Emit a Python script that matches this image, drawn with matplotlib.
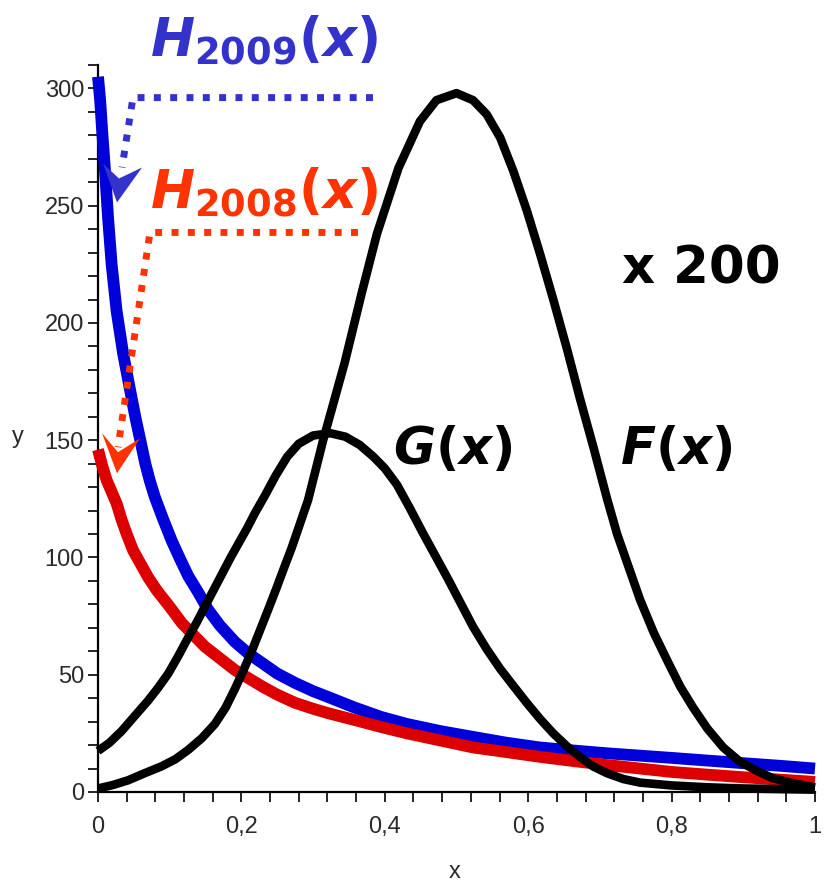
import numpy as np
import matplotlib
matplotlib.use("Agg")
import matplotlib.pyplot as plt
from matplotlib.ticker import MultipleLocator, FuncFormatter

plt.rcParams['mathtext.fontset'] = 'custom'
plt.rcParams['mathtext.it'] = 'DejaVu Sans:italic:bold'
plt.rcParams['mathtext.rm'] = 'DejaVu Sans:bold'
plt.rcParams['mathtext.bf'] = 'DejaVu Sans:bold'

# ---- data ----
h2009_x = [0.0, 0.003, 0.006, 0.01, 0.014, 0.019, 0.026, 0.035, 0.045, 0.052, 0.059,
           0.066, 0.072, 0.079, 0.09, 0.103, 0.115, 0.126, 0.14, 0.153, 0.17, 0.191,
           0.21, 0.229, 0.25, 0.275, 0.3, 0.321, 0.358, 0.395, 0.431, 0.477, 0.523,
           0.57, 0.616, 0.663, 0.71, 0.756, 0.802, 0.85, 0.895, 0.95, 1.0]
h2009_y = [305, 295, 281, 264, 245, 225, 205, 187, 171, 160, 150,
           140, 133, 126, 117, 107, 99, 92, 85, 78, 71, 64,
           59, 55, 50.5, 46.5, 43, 40.5, 36, 32, 29, 26, 23.5,
           21, 19, 17.7, 16.5, 15.5, 14.5, 13.4, 12.4, 11.2, 10]

h2008_x = [0.0, 0.006, 0.012, 0.019, 0.026, 0.033, 0.04, 0.049, 0.059, 0.07, 0.082,
           0.1, 0.117, 0.133, 0.149, 0.17, 0.191, 0.21, 0.229, 0.25, 0.275, 0.3,
           0.321, 0.358, 0.395, 0.431, 0.477, 0.523, 0.57, 0.616, 0.663, 0.71,
           0.756, 0.802, 0.85, 0.895, 0.95, 1.0]
h2008_y = [146, 139, 133, 128, 123, 116, 110, 103, 97.5, 91.5, 86,
           79, 72, 67, 62, 57, 52, 48.5, 45, 41.5, 38, 35.5,
           33.6, 30.7, 27.7, 25, 22, 19, 17, 15, 13.2, 11.5,
           10, 8.5, 7.4, 6.4, 5.3, 4.3]

g_x = [0.0, 0.016, 0.033, 0.05, 0.07, 0.084, 0.098, 0.112, 0.126, 0.138, 0.149,
       0.161, 0.173, 0.185, 0.196, 0.208, 0.219, 0.233, 0.248, 0.264, 0.28, 0.3,
       0.324, 0.345, 0.365, 0.384, 0.4, 0.417, 0.435, 0.453, 0.47, 0.487, 0.505,
       0.523, 0.542, 0.561, 0.58, 0.598, 0.617, 0.635, 0.654, 0.672, 0.69, 0.71,
       0.733, 0.756, 0.8, 0.85, 0.9, 1.0]
g_y = [17.5, 21, 26, 32, 39, 44.5, 50.5, 58, 66, 72.5, 79,
       86, 93, 100, 106, 112.5, 119, 126.5, 135, 143, 148.5, 152,
       153, 151.5, 148, 143, 138, 131, 121, 110.5, 101, 91.5, 81,
       70.5, 61, 52.5, 45, 38, 31, 25, 19.5, 15, 11, 8,
       5.5, 4, 2.8, 2, 1.5, 1]

f_x = [0.0, 0.021, 0.042, 0.065, 0.089, 0.108, 0.126, 0.145, 0.163, 0.178, 0.191,
       0.203, 0.215, 0.226, 0.237, 0.249, 0.26, 0.27, 0.279, 0.293, 0.314, 0.344,
       0.368, 0.389, 0.419, 0.449, 0.472, 0.5, 0.523, 0.542, 0.561, 0.579, 0.598,
       0.616, 0.635, 0.654, 0.672, 0.691, 0.71, 0.724, 0.74, 0.756, 0.775, 0.794,
       0.812, 0.83, 0.85, 0.872, 0.895, 0.919, 0.94, 0.965, 1.0]
f_y = [1.5, 3, 5, 8, 11, 14, 18, 23, 29, 36, 44,
       52, 60.5, 69, 77.5, 87, 96, 104, 112, 124.5, 150, 183,
       213, 238, 266, 286, 295, 298, 295, 289, 279, 265, 248,
       230, 210, 189, 168, 147, 125, 110, 96, 82, 68, 56,
       45, 36, 27, 19, 13, 9, 6, 4, 2]

x_ticks = [0, 0.2, 0.4, 0.6, 0.8, 1.0]
y_ticks = [0, 50, 100, 150, 200, 250, 300]

# ---- figure ----
W, H = 825, 883
fig = plt.figure(figsize=(W / 100, H / 100), dpi=100)
ax = fig.add_axes([98 / W, 1 - 792 / H, (815 - 98) / W, (792 - 65) / H])
ax.set_xlim(0, 1)
ax.set_ylim(0, 310)

common = dict(clip_on=False, solid_joinstyle='round', solid_capstyle='butt')
ax.plot(h2009_x, h2009_y, color='#0000d8', lw=8.5, zorder=3, **common)
ax.plot(h2008_x, h2008_y, color='#dd0000', lw=8.5, zorder=3, **common)
ax.plot(g_x, g_y, color='black', lw=6.2, zorder=4, **common)
ax.plot(f_x, f_y, color='black', lw=6.2, zorder=4, **common)

for s in ['top', 'right']:
    ax.spines[s].set_visible(False)
for s in ['left', 'bottom']:
    ax.spines[s].set_linewidth(1.6)

ax.set_xticks(x_ticks)
ax.set_yticks(y_ticks)
ax.xaxis.set_minor_locator(MultipleLocator(0.04))
ax.yaxis.set_minor_locator(MultipleLocator(10))
ax.xaxis.set_major_formatter(FuncFormatter(
    lambda v, p: ('%d' % v) if abs(v - round(v)) < 1e-9 else ('%g' % v).replace('.', ',')))
ax.tick_params(which='both', direction='out', length=7, width=1.2, color='black')
ax.tick_params(axis='both', which='major', labelsize=17, labelcolor='#2a2a2a')
ax.tick_params(axis='y', pad=3)
ax.tick_params(axis='x', pad=10)
for lab in ax.get_xticklabels() + ax.get_yticklabels():
    lab.set_fontfamily('Liberation Sans')

fig.text(18 / W, 1 - 437 / H, 'y', ha='center', va='center', fontsize=17,
         color='#2a2a2a', family='Liberation Sans')
fig.text(455 / W, 1 - 872 / H, 'x', ha='center', va='center', fontsize=17,
         color='#2a2a2a', family='Liberation Sans')

# ---- annotations ----
blue_t = '#3333cc'
red_t = '#ff3300'
ax.text(0.072, 314, r'$H_{2009}(x)$', fontsize=38, color=blue_t, ha='left',
        va='baseline', clip_on=False)
ax.text(0.072, 249, r'$H_{2008}(x)$', fontsize=38, color=red_t, ha='left',
        va='baseline', clip_on=False)
ax.text(0.731, 217, 'x 200', fontsize=37, fontweight='bold', color='black',
        ha='left', va='baseline', family='DejaVu Sans')
ax.text(0.412, 140, r'$G(x)$', fontsize=37, color='black', ha='left', va='baseline')
ax.text(0.728, 140, r'$F(x)$', fontsize=37, color='black', ha='left', va='baseline')

# dotted leader lines
ax.plot([0.3835, 0.0488, 0.0335], [296.1, 296.1, 266.3], color=blue_t, lw=5,
        dashes=(1, 1.35), dash_capstyle='butt', clip_on=False, zorder=5)
ax.plot([0.3626, 0.0725, 0.0279], [238.6, 238.6, 147.0], color=red_t, lw=5,
        dashes=(1, 1.35), dash_capstyle='butt', clip_on=False, zorder=5)
# arrow heads
ax.fill([0.0265, 0.007, 0.0293, 0.0614], [251.4, 268.0, 261.6, 266.3], color=blue_t,
        lw=0, clip_on=False, zorder=5)
ax.fill([0.0265, 0.0056, 0.0279, 0.0586], [135.9, 153.0, 144.9, 150.8], color=red_t,
        lw=0, clip_on=False, zorder=5)

fig.savefig('out.png', dpi=100, facecolor='white')
